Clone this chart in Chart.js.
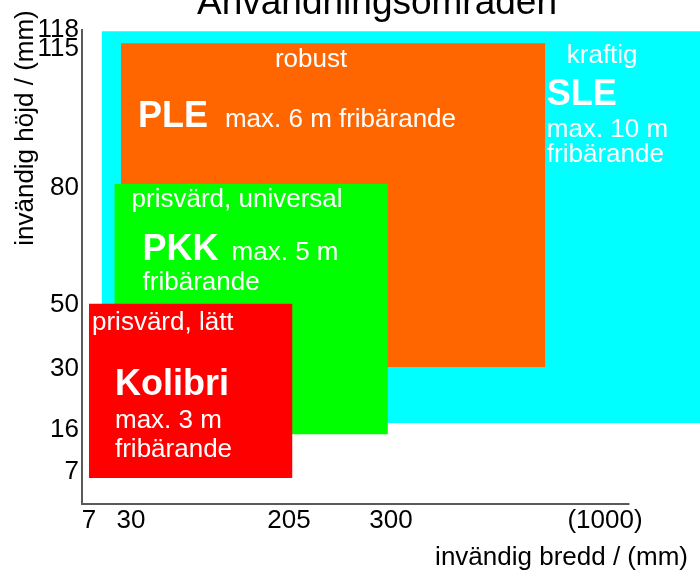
<!DOCTYPE html>
<html>
<head>
<meta charset="utf-8">
<script src="https://cdn.jsdelivr.net/npm/chart.js@4.4.0/dist/chart.umd.min.js"></script>
<style>
  html, body { margin: 0; padding: 0; background: #fff; }
</style>
</head>
<body>
<canvas id="areaChart" width="700" height="571"></canvas>
<script>
// product ranges (inner width / inner height in mm)
const products = ['Kolibri', 'PKK', 'PLE', 'SLE'];
const widthFrom = [7, 21, 24.5, 14];
const widthTo = [208, 297, 804, 1320];
const heightFrom = [5.7, 15.1, 30.6, 17.6];
const heightTo = [50.3, 80.9, 115.9, 117.8];

const taglines = ['prisvärd, lätt', 'prisvärd, universal', 'robust', 'kraftig'];
const spans = ['max. 3 m', 'max. 5 m', 'max. 6 m', 'max. 10 m'];

const xTickValues = [7, 30, 205, 300, 1000];
const xTickLabels = ['7', '30', '205', '300', '(1000)'];
const yTickValues = [7, 16, 30, 50, 80, 115, 118];
const yTickLabels = ['7', '16', '30', '50', '80', '115', '118'];

const boxColors = ['#ff0000', '#00ff00', '#ff6600', '#00ffff'];
const FONT = '"Liberation Sans", Arial, sans-serif';

// text offsets inside each box (px from its top-left corner)
const labelLayout = [
    { tag: [3, 26], name: [26, 91], span: [26, 124], fri: [26, 153] },
    { tag: [17, 23], name: [28, 76], span: [117, 76], fri: [28, 106] },
    { tag: [154, 24], name: [17, 84], span: [104, 84], fri: [218, 84] },
    { tag: [465, 32], name: [445, 74], span: [445, 106], fri: [445, 131] }
];

// the axes in the drawing are not to scale: piecewise linear between anchor ticks
class SchematicScale extends Chart.LinearScale {
    _toDecimal(v) {
        const a = this.options.anchors;
        let k = 0;
        while (k < a.length - 2 && v > a[k + 1][0]) k++;
        const [v0, d0] = a[k], [v1, d1] = a[k + 1];
        return d0 + (v - v0) * (d1 - d0) / (v1 - v0);
    }
    getPixelForValue(value) {
        return value === null ? NaN : this.getPixelForDecimal(this._toDecimal(value));
    }
    getValueForPixel(pixel) {
        const d = this.getDecimalForPixel(pixel);
        const a = this.options.anchors;
        let k = 0;
        while (k < a.length - 2 && d > a[k + 1][1]) k++;
        const [v0, d0] = a[k], [v1, d1] = a[k + 1];
        return v0 + (d - d0) * (v1 - v0) / (d1 - d0);
    }
}
SchematicScale.id = 'schematic';
SchematicScale.defaults = Chart.LinearScale.defaults;
Chart.register(SchematicScale);

const annotate = {
    id: 'annotate',
    afterDatasetsDraw(chart) {
        const { ctx, scales: { x, y } } = chart;
        ctx.save();
        ctx.fillStyle = '#ffffff';
        ctx.textAlign = 'left';
        ctx.textBaseline = 'alphabetic';
        products.forEach((name, i) => {
            const left = x.getPixelForValue(widthFrom[i]);
            const top = y.getPixelForValue(heightTo[i]);
            const p = labelLayout[i];
            const lines = [
                [taglines[i], p.tag, false],
                [name, p.name, true],
                [spans[i], p.span, false],
                ['fribärande', p.fri, false]
            ];
            lines.forEach(([txt, [dx, dy], bold]) => {
                ctx.font = bold ? 'bold 36px ' + FONT : '26px ' + FONT;
                ctx.fillText(txt, left + dx, top + dy);
            });
        });

        // x axis line stops at the scale max, the cyan box runs past it
        ctx.strokeStyle = '#5a5a5a';
        ctx.lineWidth = 2;
        ctx.beginPath();
        ctx.moveTo(x.left - 1, y.bottom);
        ctx.lineTo(x.getPixelForValue(x.max), y.bottom);
        ctx.stroke();

        // titles
        ctx.fillStyle = '#000000';
        ctx.font = '37px ' + FONT;
        ctx.textAlign = 'center';
        ctx.fillText('Användningsområden', 377, 14);
        ctx.font = '26px ' + FONT;
        ctx.textAlign = 'right';
        ctx.fillText('invändig bredd / (mm)', 688, 565);
        ctx.translate(33, 128);
        ctx.rotate(-Math.PI / 2);
        ctx.textAlign = 'center';
        ctx.fillText('invändig höjd / (mm)', 0, 0);
        ctx.restore();
    }
};

const ctx = document.getElementById('areaChart').getContext('2d');
const areaChart = new Chart(ctx, {
    type: 'line',
    data: {
        datasets: products.map((name, i) => ({
            label: name,
            data: [
                { x: widthFrom[i], y: heightFrom[i] },
                { x: widthTo[i], y: heightFrom[i] },
                { x: widthTo[i], y: heightTo[i] },
                { x: widthFrom[i], y: heightTo[i] },
                { x: widthFrom[i], y: heightFrom[i] }
            ],
            backgroundColor: boxColors[i],
            borderColor: boxColors[i],
            borderWidth: 0,
            pointRadius: 0,
            fill: 'shape',
            tension: 0
        }))
    },
    options: {
        responsive: false,
        animation: false,
        layout: { padding: { top: 30, left: 0, right: 0, bottom: 0 } },
        scales: {
            x: {
                type: 'schematic',
                min: 0,
                max: 1080,
                anchors: [[7, 0.0113], [30, 0.0793], [205, 0.335], [300, 0.5], [1000, 0.8463]],
                grid: { display: false, drawTicks: false },
                border: { display: false },
                afterBuildTicks: (s) => { s.ticks = xTickValues.map(v => ({ value: v })); },
                afterFit: (s) => { s.height = 67; },
                ticks: {
                    autoSkip: false,
                    maxRotation: 0,
                    padding: 1,
                    color: '#000',
                    font: { family: FONT, size: 26 },
                    callback: (v, i) => xTickLabels[i]
                }
            },
            y: {
                type: 'schematic',
                min: 0,
                max: 118,
                anchors: [[7, 0.0675], [16, 0.1561], [30, 0.2848], [50, 0.4198], [80, 0.6677], [115, 0.9599], [118, 1.0]],
                grid: { display: false, drawTicks: false },
                border: { display: true, color: '#5a5a5a', width: 2 },
                afterBuildTicks: (s) => { s.ticks = yTickValues.map(v => ({ value: v })); },
                afterFit: (s) => { s.width = 82; },
                ticks: {
                    autoSkip: false,
                    padding: 3,
                    color: '#000',
                    font: { family: FONT, size: 26 },
                    callback: (v, i) => yTickLabels[i]
                }
            }
        },
        plugins: {
            legend: { display: false },
            tooltip: { enabled: false }
        }
    },
    plugins: [annotate]
});
</script>
</body>
</html>
